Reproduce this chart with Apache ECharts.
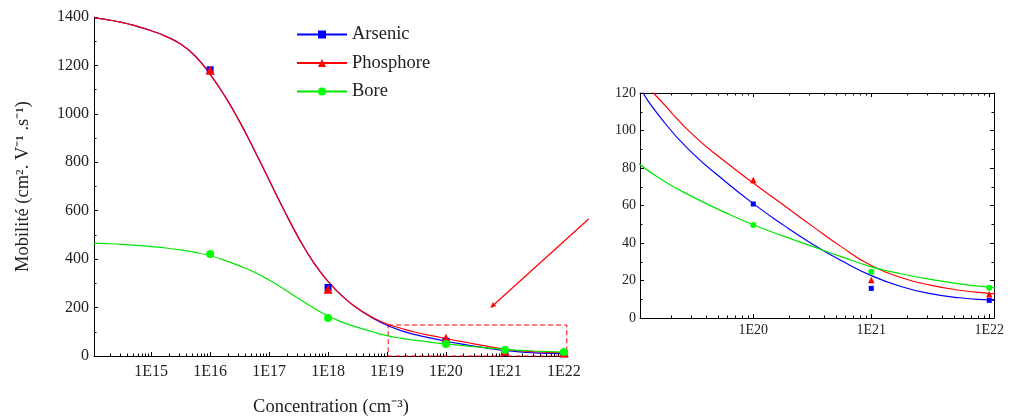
<!DOCTYPE html>
<html><head><meta charset="utf-8">
<script src="https://cdn.jsdelivr.net/npm/echarts@6/dist/echarts.min.js"></script>
<style>html,body{margin:0;padding:0;background:#fff}#c{width:1010px;height:418px}</style>
</head><body><div id="c"></div>
<script>
// ---------- data ----------
const seriesNames = ['Arsenic', 'Phosphore', 'Bore'];
// measured points (log10 of concentration in cm^-3)
const measuredExp = [16, 18, 20, 21, 22];
const arsenicPts = [1182, 283, 60.8, 15.8, 9.4];
const phosphorePts = [1180, 276, 73.6, 20.3, 12.7];
const borePts = [421, 157, 49.6, 24.7, 16.1];
// fitted curves
const curveExp = [14.03, 14.25, 14.5, 14.75, 15, 15.25, 15.5, 15.75, 16, 16.25, 16.5, 16.75, 17, 17.25, 17.5, 17.75, 18, 18.25, 18.5, 18.75, 19, 19.25, 19.5, 19.75, 20, 20.25, 20.5, 20.75, 21, 21.25, 21.5, 21.75, 22, 22.05];
const arsenicFit = [1396, 1389, 1378, 1362, 1343, 1320, 1288, 1238, 1163, 1073, 968, 850, 727, 604, 488, 388, 308, 245, 196, 158, 127, 104, 87, 73.5, 61, 49.8, 39.5, 30.5, 22.6, 16.8, 13, 10.8, 9.6, 9.45];
const phosphoreFit = [1396, 1389, 1378, 1362, 1343, 1320, 1288, 1238, 1163, 1073, 968, 850, 727, 604, 488, 388, 308, 245, 197, 160, 132, 113.5, 97, 84, 72, 60.5, 49, 37.8, 28, 21.6, 17.5, 14.8, 13.1, 12.9];
const boreFit = [466, 464, 461, 457, 452, 446, 438, 428, 414, 395, 372, 346, 314, 277, 237, 199, 165, 139, 118, 100, 84, 72.8, 64.2, 56.6, 49.7, 43.8, 38.2, 32.6, 27.3, 23.6, 20.6, 18.2, 16.4, 16.1];
// tick labels (exponents)
const mainTickExp = [15, 16, 17, 18, 19, 20, 21, 22];
const insetTickExp = [20, 21, 22];
// annotations
const zoomBox = { fromExp: 19.02, toExp: 22.05, low: 0, high: 128 };
const arrowFrom = [22.42, 566];
const arrowTo = [20.75, 198];

// ---------- styles ----------
const colors = ['#0000ff', '#ff0000', '#00e600'];
const markerColors = ['#0000ff', '#ff0000', '#00ff00'];
const symbols = ['rect', 'triangle', 'circle'];
const bigSizes = [7, 9, 8];
const smallSizes = [5, 6.5, 6];
const FONT = 'Liberation Serif';
const TXT = '#222';
const fits = [arsenicFit, phosphoreFit, boreFit];
const pts = [arsenicPts, phosphorePts, borePts];

const MAIN = { min: 14.03, max: 22.07 };
const INSET = { min: 19.04, max: 22.04 };

function minorTicks(lo, hi) {
  const out = [];
  for (let k = Math.floor(lo); k <= Math.ceil(hi); k++) {
    for (let m = 2; m <= 9; m++) {
      const v = k + Math.log10(m);
      if (v > lo && v < hi) out.push(v);
    }
  }
  return out;
}
const black = { color: '#000', width: 1 };
const plain = v => String(v);

function xMajor(grid, range, ticks, opts) {
  return Object.assign({
    type: 'value', gridIndex: grid, min: range.min, max: range.max,
    position: 'bottom',
    axisLine: { show: true, onZero: false, lineStyle: black },
    axisTick: { show: true, inside: true, length: 4, customValues: ticks, lineStyle: black },
    axisLabel: { show: true, customValues: ticks, formatter: v => '1E' + Math.round(v),
      fontFamily: FONT, fontSize: 16, color: TXT, margin: 8 },
    splitLine: { show: false }, minorTick: { show: false }
  }, opts || {});
}
function xMinor(grid, range, position) {
  return {
    type: 'value', gridIndex: grid, min: range.min, max: range.max, position: position,
    axisLine: { show: false, onZero: false },
    axisTick: { show: true, inside: true, length: 2.5, customValues: minorTicks(range.min, range.max), lineStyle: black },
    axisLabel: { show: false }, splitLine: { show: false }
  };
}

const xAxes = [
  xMajor(0, MAIN, mainTickExp, {
    name: 'Concentration (cm⁻³)', nameLocation: 'middle', nameGap: 42,
    nameTextStyle: { fontFamily: FONT, fontSize: 18.5, color: TXT }
  }),
  xMinor(0, MAIN, 'bottom'),
  xMajor(1, INSET, insetTickExp, {
    axisLabel: { show: true, customValues: insetTickExp, formatter: v => '1E' + Math.round(v),
      fontFamily: FONT, fontSize: 14, color: TXT, margin: 5 }
  }),
  xMinor(1, INSET, 'bottom'),
  xMajor(1, INSET, insetTickExp, { position: 'top', axisLabel: { show: false } }),
  xMinor(1, INSET, 'top')
];

const yAxes = [
  {
    type: 'value', gridIndex: 0, min: 0, max: 1400, interval: 200,
    axisLine: { show: true, onZero: false, lineStyle: black },
    axisTick: { show: true, inside: true, length: 4, lineStyle: black },
    minorTick: { show: true, splitNumber: 2, length: 2.5, lineStyle: black },
    axisLabel: { fontFamily: FONT, fontSize: 16, color: TXT, margin: 5, formatter: plain },
    splitLine: { show: false }, minorSplitLine: { show: false },
    name: 'Mobilité (cm². V⁻¹ .s⁻¹)', nameLocation: 'middle', nameGap: 61,
    nameTextStyle: { fontFamily: FONT, fontSize: 18.5, color: TXT }
  },
  {
    type: 'value', gridIndex: 1, min: 0, max: 120, interval: 20, position: 'left',
    axisLine: { show: true, onZero: false, lineStyle: black },
    axisTick: { show: true, inside: true, length: 4, lineStyle: black },
    minorTick: { show: true, splitNumber: 2, length: 2.5, lineStyle: black },
    axisLabel: { fontFamily: FONT, fontSize: 14, color: TXT, margin: 4, formatter: plain },
    splitLine: { show: false }, minorSplitLine: { show: false }
  },
  {
    type: 'value', gridIndex: 1, min: 0, max: 120, interval: 20, position: 'right',
    axisLine: { show: true, onZero: false, lineStyle: black },
    axisTick: { show: true, inside: true, length: 4, lineStyle: black },
    minorTick: { show: true, splitNumber: 2, length: 2.5, lineStyle: black },
    axisLabel: { show: false },
    splitLine: { show: false }, minorSplitLine: { show: false }
  }
];

const series = [];
// left chart curves
seriesNames.forEach((n, i) => {
  series.push({
    name: n, type: 'line', xAxisIndex: 0, yAxisIndex: 0,
    data: curveExp.map((e, j) => [e, fits[i][j]]),
    smooth: 0.5, symbol: symbols[i], showSymbol: false, symbolSize: bigSizes[i],
    lineStyle: { color: colors[i], width: 1.2 }, itemStyle: { color: markerColors[i] },
    z: 2, silent: true
  });
});
// left chart markers
seriesNames.forEach((n, i) => {
  series.push({
    name: n + ' (mesures)', type: 'scatter', xAxisIndex: 0, yAxisIndex: 0,
    data: measuredExp.map((e, j) => [e, pts[i][j]]),
    symbol: symbols[i], symbolSize: bigSizes[i],
    itemStyle: { color: markerColors[i], opacity: 1 }, z: 3, silent: true
  });
});
// inset curves
seriesNames.forEach((n, i) => {
  series.push({
    name: n, type: 'line', xAxisIndex: 2, yAxisIndex: 1,
    data: curveExp.map((e, j) => [e, fits[i][j]]),
    smooth: 0.5, symbol: symbols[i], showSymbol: false, clip: true,
    lineStyle: { color: colors[i], width: 1.2 }, itemStyle: { color: markerColors[i] },
    z: 2, silent: true
  });
});
// inset markers
seriesNames.forEach((n, i) => {
  series.push({
    name: n + ' (mesures)', type: 'scatter', xAxisIndex: 2, yAxisIndex: 1,
    data: measuredExp.map((e, j) => [e, pts[i][j]]).filter(d => d[0] >= INSET.min),
    symbol: symbols[i], symbolSize: smallSizes[i],
    itemStyle: { color: markerColors[i], opacity: 1 }, z: 3, silent: true
  });
});
// zoom box annotation
series.push({
  name: 'zoom', type: 'line', xAxisIndex: 0, yAxisIndex: 0, data: [],
  markArea: {
    silent: true,
    itemStyle: { color: 'rgba(0,0,0,0)', borderColor: '#ff0000', borderWidth: 1, borderType: [5, 3] },
    data: [[{ coord: [zoomBox.fromExp, zoomBox.high] }, { coord: [zoomBox.toExp, zoomBox.low] }]]
  }
});

const chart = echarts.init(document.getElementById('c'), null, { renderer: 'canvas' });
chart.setOption({
  animation: false,
  backgroundColor: '#fff',
  grid: [
    { left: 94, top: 17, width: 474, height: 339, outerBoundsMode: 'none', containLabel: false },
    { left: 640, top: 93, width: 354, height: 225, outerBoundsMode: 'none', containLabel: false }
  ],
  legend: {
    data: seriesNames, orient: 'vertical', left: 296, top: 25, padding: 0,
    itemWidth: 50, itemHeight: 10, itemGap: 9.5, selectedMode: false,
    textStyle: { fontFamily: FONT, fontSize: 18.5, color: TXT }
  },
  xAxis: xAxes,
  yAxis: yAxes,
  series: series
});

// arrow from data coordinates of the main chart
const finder = { xAxisIndex: 0, yAxisIndex: 0 };
const p1 = chart.convertToPixel(finder, arrowFrom);
const p2 = chart.convertToPixel(finder, arrowTo);
const dx = p2[0] - p1[0], dy = p2[1] - p1[1];
const L = Math.hypot(dx, dy), ux = dx / L, uy = dy / L;
const hl = 6, hw = 2.5;
const base = [p2[0] - ux * hl, p2[1] - uy * hl];
chart.setOption({
  graphic: [
    { type: 'line', shape: { x1: p1[0], y1: p1[1], x2: base[0], y2: base[1] },
      style: { stroke: '#ff0000', lineWidth: 1.2 }, silent: true },
    { type: 'polygon', shape: { points: [p2, [base[0] - uy * hw, base[1] + ux * hw], [base[0] + uy * hw, base[1] - ux * hw]] },
      style: { fill: '#ff0000' }, silent: true }
  ]
});
</script></body></html>
